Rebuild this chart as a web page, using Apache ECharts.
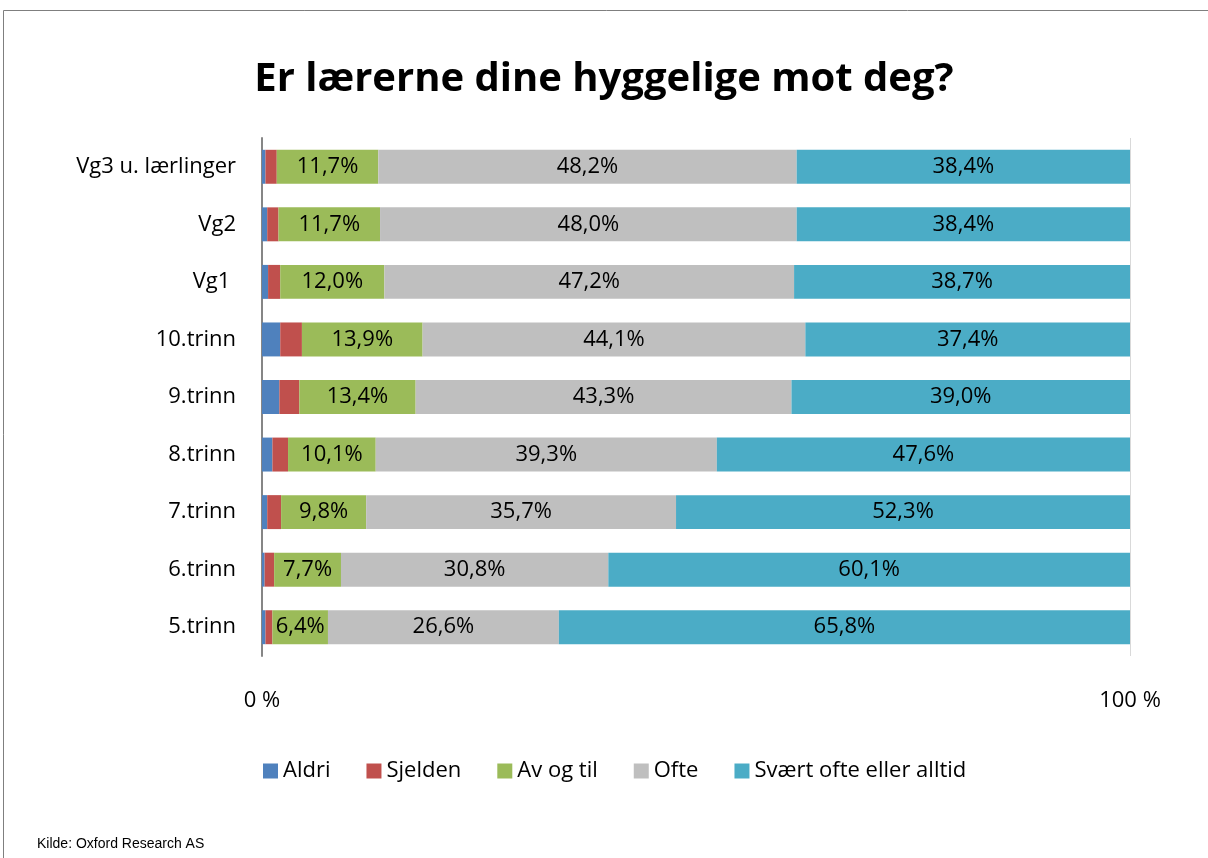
<!DOCTYPE html>
<html>
<head>
<meta charset="utf-8">
<script src="https://cdn.jsdelivr.net/npm/echarts@6/dist/echarts.min.js"></script>
<style>
  html, body { margin: 0; padding: 0; background: #fff; }
  #chart { width: 1208px; height: 858px; }
</style>
</head>
<body>
<div id="chart"></div>
<script>
const categories = ["Vg3 u. lærlinger", "Vg2", "Vg1 ", "10.trinn", "9.trinn", "8.trinn", "7.trinn", "6.trinn", "5.trinn"];
const aldri = [0.4, 0.6, 0.7, 2.1, 2.0, 1.2, 0.6, 0.3, 0.4];
const sjelden = [1.3, 1.3, 1.4, 2.5, 2.3, 1.8, 1.6, 1.1, 0.8];
const avOgTil = [11.7, 11.7, 12.0, 13.9, 13.4, 10.1, 9.8, 7.7, 6.4];
const ofte = [48.2, 48.0, 47.2, 44.1, 43.3, 39.3, 35.7, 30.8, 26.6];
const svaertOfte = [38.4, 38.4, 38.7, 37.4, 39.0, 47.6, 52.3, 60.1, 65.8];

const font = "'Open Sans', Lato, sans-serif";
const size = 22;

function pct(p) {
  return p.value.toFixed(1).replace(".", ",") + "%";
}

function makeSeries(name, data, color, showLabel) {
  return {
    name,
    type: "bar",
    stack: "total",
    data,
    barCategoryGap: "41%",
    itemStyle: { color },
    label: {
      show: showLabel,
      position: "inside",
      formatter: pct,
      color: "#000",
      fontSize: size,
      fontFamily: font,
    },
  };
}

const chart = echarts.init(document.getElementById("chart"));

chart.setOption({
  animation: false,
  backgroundColor: "#fff",
  title: {
    text: "Er lærerne dine hyggelige mot deg?",
    left: "center",
    top: 55,
    textStyle: { fontSize: 40, fontWeight: "bold", color: "#000", fontFamily: font },
  },
  legend: {
    left: 258,
    top: 755,
    itemWidth: 15,
    itemHeight: 15,
    itemGap: 36,
    icon: "rect",
    textStyle: { fontSize: size, color: "#000", fontFamily: font },
    data: ["Aldri", "Sjelden", "Av og til", "Ofte", "Svært ofte eller alltid"],
  },
  grid: { left: 262, right: 78, top: 138, bottom: 202 },
  xAxis: {
    type: "value",
    min: 0,
    max: 100,
    interval: 100,
    axisLine: { show: false },
    axisTick: { show: false },
    splitLine: { show: true, lineStyle: { color: "#d9d9d9", width: 1 } },
    axisLabel: {
      margin: 34,
      fontSize: size,
      color: "#000",
      fontFamily: font,
      formatter: (v) => v + " %",
    },
  },
  yAxis: {
    type: "category",
    inverse: true,
    data: categories,
    axisLine: { show: true, lineStyle: { color: "#868686", width: 2 } },
    axisTick: { show: false },
    axisLabel: { margin: 26, fontSize: size, color: "#000", fontFamily: font },
  },
  series: [
    makeSeries("Aldri", aldri, "#4F81BD", false),
    makeSeries("Sjelden", sjelden, "#C0504D", false),
    makeSeries("Av og til", avOgTil, "#9BBB59", true),
    makeSeries("Ofte", ofte, "#BFBFBF", true),
    makeSeries("Svært ofte eller alltid", svaertOfte, "#4BACC6", true),
  ],
  graphic: [
    {
      type: "rect",
      shape: { x: 3.5, y: 10.5, width: 1220, height: 860 },
      style: { fill: null, stroke: "#7f7f7f", lineWidth: 1 },
      silent: true,
    },
    {
      type: "text",
      left: 37,
      top: 837,
      style: {
        text: "Kilde: Oxford Research AS",
        fontSize: 14,
        fill: "#000",
        fontFamily: "'Liberation Sans Narrow', 'Liberation Sans', sans-serif",
      },
    },
  ],
});
</script>
</body>
</html>
